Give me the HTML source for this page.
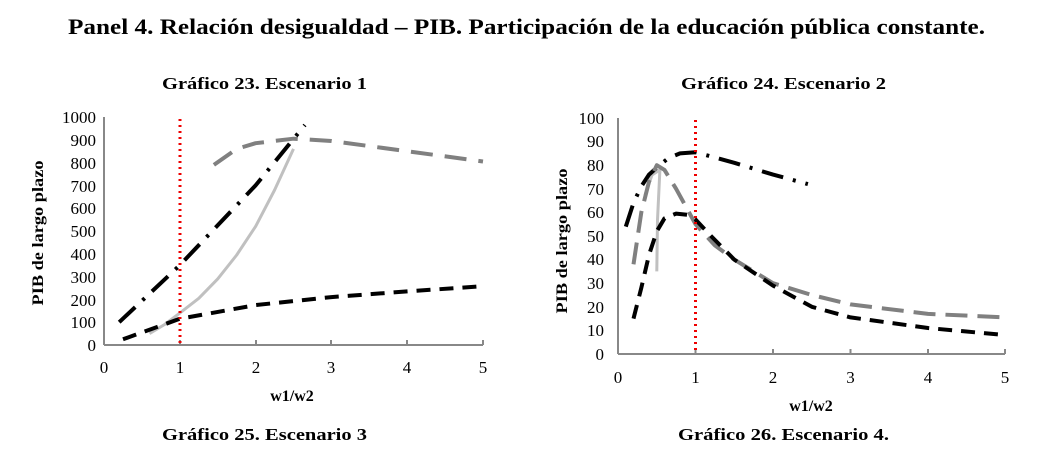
<!DOCTYPE html>
<html><head><meta charset="utf-8"><style>
body{margin:0;background:#fff;}
svg{display:block;font-family:"Liberation Serif",serif;}
</style></head><body>
<svg width="1061" height="464" viewBox="0 0 1061 464">
<text x="68" y="34" font-size="22" font-weight="bold" textLength="917" lengthAdjust="spacingAndGlyphs">Panel 4. Relación desigualdad – PIB. Participación de la educación pública constante.</text>
<text x="162" y="89" font-size="17" font-weight="bold" textLength="205" lengthAdjust="spacingAndGlyphs">Gráfico 23. Escenario 1</text>
<text x="681" y="89" font-size="17" font-weight="bold" textLength="205" lengthAdjust="spacingAndGlyphs">Gráfico 24. Escenario 2</text>
<text x="162" y="440" font-size="17" font-weight="bold" textLength="205" lengthAdjust="spacingAndGlyphs">Gráfico 25. Escenario 3</text>
<text x="678" y="440" font-size="17" font-weight="bold" textLength="211" lengthAdjust="spacingAndGlyphs">Gráfico 26. Escenario 4.</text>

<!-- LEFT -->
<g stroke="#888" stroke-width="2" fill="none">
<line x1="104" y1="117" x2="104" y2="345"/><line x1="104" y1="345" x2="483" y2="345"/>
<line x1="180" y1="345" x2="180" y2="340"/><line x1="256" y1="345" x2="256" y2="340"/><line x1="331" y1="345" x2="331" y2="340"/><line x1="407" y1="345" x2="407" y2="340"/><line x1="483" y1="345" x2="483" y2="340"/>
</g>
<g font-size="17" text-anchor="end">
<text x="96" y="351">0</text><text x="96" y="328">100</text><text x="96" y="306">200</text><text x="96" y="283">300</text><text x="96" y="260">400</text><text x="96" y="237">500</text><text x="96" y="214">600</text><text x="96" y="192">700</text><text x="96" y="169">800</text><text x="96" y="146">900</text><text x="96" y="123">1000</text>
</g>
<g font-size="17" text-anchor="middle">
<text x="104" y="373">0</text><text x="180" y="373">1</text><text x="256" y="373">2</text><text x="331" y="373">3</text><text x="407" y="373">4</text><text x="483" y="373">5</text>
</g>
<text x="292" y="401" text-anchor="middle" font-size="16" font-weight="bold">w1/w2</text>
<text transform="translate(43,233) rotate(-90)" text-anchor="middle" font-size="16" font-weight="bold" textLength="145" lengthAdjust="spacingAndGlyphs">PIB de largo plazo</text>
<g fill="none" stroke-linejoin="round">
<polyline stroke="#808080" stroke-width="4" stroke-dasharray="22 12" points="213.9,164.9 236.7,148.9 255.6,143.2 293.5,138.7 331.4,141 407.2,151.2 483,161.5"/>
<polyline stroke="#c0c0c0" stroke-width="3" points="149.5,333.6 164.6,324.5 179.8,313.1 198.8,298.3 217.7,278.9 236.7,255 255.6,226.4 274.6,190 293.5,148.9"/>
<polyline stroke="#000" stroke-width="4" stroke-dasharray="22 10 3 10" points="119.2,322.2 179.8,265.2 255.6,185.4 304.9,125"/>
<polyline stroke="#000" stroke-width="4" stroke-dasharray="14 9" points="123,339.3 179.8,318.8 255.6,305.1 331.4,297.1 407.2,291.4 483,286.2"/>
<line x1="180" y1="119" x2="180" y2="345" stroke="#e00" stroke-width="3" stroke-dasharray="2 4"/>
</g>

<!-- RIGHT -->
<g stroke="#888" stroke-width="2" fill="none">
<line x1="618" y1="118" x2="618" y2="354"/><line x1="618" y1="354" x2="1005" y2="354"/>
<line x1="695.5" y1="354" x2="695.5" y2="349"/><line x1="773" y1="354" x2="773" y2="349"/><line x1="850.5" y1="354" x2="850.5" y2="349"/><line x1="928" y1="354" x2="928" y2="349"/><line x1="1005" y1="354" x2="1005" y2="349"/>
</g>
<g font-size="17" text-anchor="end">
<text x="604" y="360">0</text><text x="604" y="336">10</text><text x="604" y="313">20</text><text x="604" y="289">30</text><text x="604" y="265">40</text><text x="604" y="242">50</text><text x="604" y="218">60</text><text x="604" y="195">70</text><text x="604" y="171">80</text><text x="604" y="147">90</text><text x="604" y="124">100</text>
</g>
<g font-size="17" text-anchor="middle">
<text x="618" y="383">0</text><text x="695.5" y="383">1</text><text x="773" y="383">2</text><text x="850.5" y="383">3</text><text x="928" y="383">4</text><text x="1005" y="383">5</text>
</g>
<text x="811" y="411" text-anchor="middle" font-size="16" font-weight="bold">w1/w2</text>
<text transform="translate(567,241) rotate(-90)" text-anchor="middle" font-size="16" font-weight="bold" textLength="145" lengthAdjust="spacingAndGlyphs">PIB de largo plazo</text>
<g fill="none" stroke-linejoin="round">
<polyline stroke="#c0c0c0" stroke-width="3" points="656.8,271.4 657.5,220 659.9,169.9 652,175 645,195"/>
<polyline stroke="#000" stroke-width="4" stroke-dasharray="22 10 3 10" points="625.8,226.6 633.5,202.9 641.3,186.4 649,174.6 656.8,167.6 668.4,158.1 680,153.4 695.5,152.2 734.3,162.8 773,174.6 807.9,184.1"/>
<polyline stroke="#808080" stroke-width="4" stroke-dasharray="22 10" points="633.5,264.3 641.3,212.4 649,181.7 656.8,165.2 664.5,169.9 676.1,188.8 695.5,224.2 714.9,245.4 734.3,259.6 773,283.2 811.8,295 850.5,304.4 928,313.9 1005.5,317.4"/>
<polyline stroke="#000" stroke-width="4" stroke-dasharray="14 9" points="633.5,318.6 641.3,287.9 649,254.9 656.8,231.3 664.5,218.3 676.1,213.6 687.8,214.8 695.5,219.5 711,236 734.3,259.6 773,285.6 811.8,306.8 850.5,317.4 928,328 1005.5,335.1"/>
<line x1="695.5" y1="120" x2="695.5" y2="354" stroke="#e00" stroke-width="3" stroke-dasharray="2 4"/>
</g>
</svg>
</body></html>
